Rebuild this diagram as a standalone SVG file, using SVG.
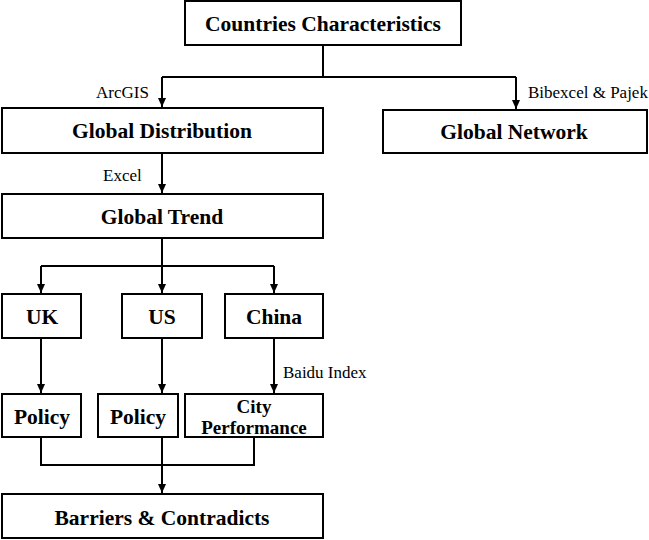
<svg xmlns="http://www.w3.org/2000/svg" width="649" height="540" viewBox="0 0 649 540">
<style>
rect{fill:#fff;stroke:#000;stroke-width:2}
.t{font-family:"Liberation Serif",serif;font-weight:bold;font-size:21.5px;text-anchor:middle}
.l{font-family:"Liberation Serif",serif;font-size:17px}
#c path{fill:none;stroke:#000;stroke-width:2}
</style>
<defs><marker id="a" markerWidth="10" markerHeight="10" refX="9" refY="5" orient="auto" markerUnits="userSpaceOnUse"><path d="M0,1 L9,5 L0,9 Z" fill="#000"/></marker></defs>
<rect width="649" height="540" style="stroke:none"/>
<g id="c">
<path d="M323,45 V77 M162,77 H516"/>
<path d="M162,77 V107" marker-end="url(#a)"/>
<path d="M516,77 V109" marker-end="url(#a)"/>
<path d="M162,153 V193" marker-end="url(#a)"/>
<path d="M162,238 V266 M41,266 H274"/>
<path d="M41,266 V293" marker-end="url(#a)"/>
<path d="M162,266 V293" marker-end="url(#a)"/>
<path d="M274,266 V293" marker-end="url(#a)"/>
<path d="M41,338 V393" marker-end="url(#a)"/>
<path d="M162,338 V393" marker-end="url(#a)"/>
<path d="M274,338 V393" marker-end="url(#a)"/>
<path d="M41,437 V465 H254 V437"/>
<path d="M162,437 V493" marker-end="url(#a)"/>
<text class="l" x="96" y="98">ArcGIS</text>
<text class="l" x="528" y="98">Bibexcel &amp; Pajek</text>
<text class="l" x="103" y="181">Excel</text>
<text class="l" x="283" y="378">Baidu Index</text>
</g>
<g id="n1"><rect x="185" y="1" width="276" height="44"/><text class="t" x="323" y="31">Countries Characteristics</text></g>
<g id="n2"><rect x="2" y="108" width="321" height="45"/><text class="t" x="162" y="138">Global Distribution</text></g>
<g id="n3"><rect x="383" y="110" width="264" height="43"/><text class="t" x="514" y="139">Global Network</text></g>
<g id="n4"><rect x="2" y="194" width="321" height="44"/><text class="t" x="162" y="224">Global Trend</text></g>
<g id="n5"><rect x="2" y="294" width="79" height="44"/><text class="t" x="42" y="324">UK</text></g>
<g id="n6"><rect x="122" y="294" width="80" height="44"/><text class="t" x="162" y="324">US</text></g>
<g id="n7"><rect x="225" y="294" width="98" height="44"/><text class="t" x="274" y="324">China</text></g>
<g id="n8"><rect x="2" y="394" width="79" height="43"/><text class="t" x="42" y="424">Policy</text></g>
<g id="n9"><rect x="98" y="394" width="80" height="43"/><text class="t" x="138" y="424">Policy</text></g>
<g id="n10"><rect x="185" y="394" width="138" height="43"/><text class="t" x="254" y="413" style="font-size:19px">City</text><text class="t" x="254" y="434" style="font-size:19px">Performance</text></g>
<g id="n11"><rect x="2" y="494" width="321" height="44"/><text class="t" x="162" y="525">Barriers &amp; Contradicts</text></g>
</svg>
